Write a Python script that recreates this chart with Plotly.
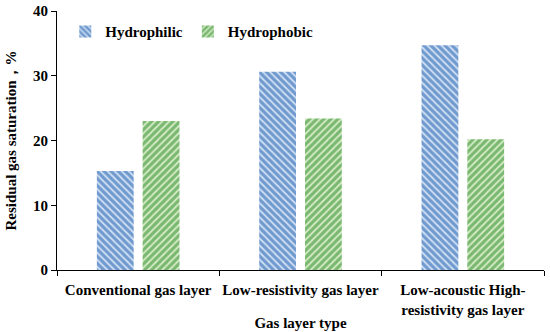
import plotly.graph_objects as go

categories = ["Conventional gas layer", "Low-resistivity gas layer", "Low-acoustic High-<br>resistivity gas layer"]
hydrophilic = [15.3, 30.6, 34.7]
hydrophobic = [23.0, 23.4, 20.2]

font_family = "Liberation Serif"
bold15 = dict(family=font_family, size=15, color="black", weight="bold")

fig = go.Figure()
fig.add_trace(go.Bar(
    x=categories, y=hydrophilic, name="Hydrophilic",
    marker=dict(color="#cfe0f5", line=dict(width=0),
                pattern=dict(shape="\\", fgcolor="#1253a6", bgcolor="#cfe0f5", size=5, solidity=0.65)),
))
fig.add_trace(go.Bar(
    x=categories, y=hydrophobic, name="Hydrophobic",
    marker=dict(color="#d5ecc8", line=dict(width=0),
                pattern=dict(shape="/", fgcolor="#1f8418", bgcolor="#d5ecc8", size=5, solidity=0.65)),
))

fig.update_layout(
    width=550, height=332,
    margin=dict(l=57, r=6, t=11, b=62),
    paper_bgcolor="white", plot_bgcolor="white",
    barmode="group", bargap=0.436, bargroupgap=0.196,
    font=dict(family=font_family, size=15, color="black"),
    legend=dict(orientation="h", x=0.017, y=0.92, xanchor="left", yanchor="middle",
                font=bold15, bgcolor="rgba(0,0,0,0)", itemwidth=30, tracegroupgap=0),
    showlegend=True,
)
fig.update_xaxes(
    automargin=False, tickangle=0,
    showline=True, linecolor="black", linewidth=1,
    ticks="outside", ticklen=5, tickcolor="black", tickson="boundaries",
    tickfont=bold15, ticklabelstandoff=6,
    title=dict(text="Gas layer type", font=bold15, standoff=0),
    showgrid=False,
)
fig.update_yaxes(
    automargin=False,
    range=[0, 40], dtick=10,
    showline=True, linecolor="black", linewidth=1,
    ticks="outside", ticklen=5, tickcolor="black",
    tickfont=bold15,
    title=dict(text="Residual gas saturation，%", font=bold15, standoff=12),
    showgrid=False, zeroline=False,
)

fig.write_html("out.html", config={"displayModeBar": False},
               post_script="document.body.style.margin='0';")
